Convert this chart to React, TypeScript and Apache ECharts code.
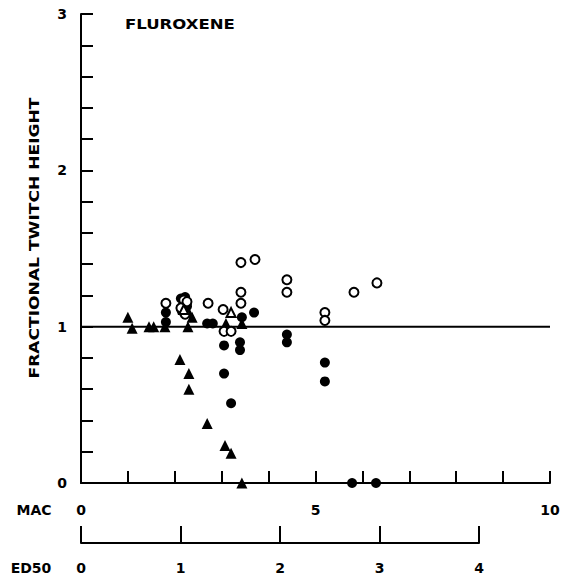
import React, { useEffect, useRef } from "react";
import * as echarts from "echarts";

// [MAC, fractional twitch height]
const filledCircles: [number, number][] = [
  [1.81, 1.09], [1.81, 1.03],
  [2.13, 1.18], [2.22, 1.19], [2.26, 1.13], [2.15, 1.10],
  [2.69, 1.02], [2.81, 1.02], [3.43, 1.06], [3.69, 1.09],
  [3.05, 0.88], [3.39, 0.90], [3.39, 0.85], [3.05, 0.70], [3.20, 0.51],
  [4.39, 0.95], [4.39, 0.90], [5.20, 0.77], [5.20, 0.65],
  [5.78, 0.0], [6.29, 0.0],
];
const openCircles: [number, number][] = [
  [1.81, 1.15],
  [2.19, 1.17], [2.26, 1.16], [2.13, 1.12], [2.22, 1.08],
  [2.71, 1.15], [3.03, 1.11], [3.41, 1.41], [3.71, 1.43],
  [3.41, 1.22], [3.41, 1.15], [3.05, 0.97], [3.20, 0.97],
  [4.39, 1.30], [4.39, 1.22], [5.20, 1.09], [5.20, 1.04],
  [5.82, 1.22], [6.31, 1.28],
];
const filledTriangles: [number, number][] = [
  [1.0, 1.06], [1.09, 0.99], [1.45, 1.0], [1.55, 1.0], [1.79, 1.0],
  [2.30, 1.09], [2.37, 1.06], [2.28, 1.0],
  [2.11, 0.79], [2.30, 0.70], [2.30, 0.60], [2.69, 0.38],
  [3.07, 0.24], [3.20, 0.19], [3.43, 0.0], [3.09, 1.02], [3.43, 1.02],
];
const openTriangles: [number, number][] = [
  [3.20, 1.09], [2.19, 1.11],
];
const referenceLine: [number, number][] = [[0, 1], [10, 1]];
const macLabels = [0, 5, 10];
const ed50Range = [0, 4];
const yRange = [0, 3];

const FONT = "DejaVu Sans";

export default function App() {
  const ref = useRef<HTMLDivElement>(null);
  useEffect(() => {
    if (!ref.current) return;
    const chart = echarts.init(ref.current, undefined, { renderer: "svg" });
    const axisLine = { show: true, lineStyle: { color: "#000", width: 2 } };
    const tickStyle = { color: "#000", width: 2 };
    const labelStyle = { color: "#000", fontFamily: FONT, fontWeight: "bold" as const, fontSize: 14 };
    chart.setOption({
      animation: false,
      backgroundColor: "#fff",
      grid: [
        { left: 81, right: 17, top: 14, bottom: 94 },
        { left: 81, width: 398, top: 533, height: 10 },
      ],
      xAxis: [
        {
          type: "value", gridIndex: 0, min: 0, max: 10, interval: 1,
          axisLine, splitLine: { show: false },
          axisTick: { show: true, inside: true, length: 12, lineStyle: tickStyle },
          axisLabel: {
            ...labelStyle, margin: 20,
            formatter: (v: number) => (macLabels.includes(Math.round(v)) && Math.abs(v - Math.round(v)) < 1e-6 ? String(Math.round(v)) : ""),
          },
        },
        {
          type: "value", gridIndex: 1, min: ed50Range[0], max: ed50Range[1], interval: 1,
          axisLine, splitLine: { show: false },
          axisTick: { show: true, inside: true, length: 17, lineStyle: tickStyle },
          axisLabel: { ...labelStyle, margin: 18 },
        },
      ],
      yAxis: [
        {
          type: "value", gridIndex: 0, min: yRange[0], max: yRange[1], interval: 0.2,
          axisLine, splitLine: { show: false },
          axisTick: { show: true, inside: true, length: 12, lineStyle: tickStyle },
          axisLabel: {
            ...labelStyle, margin: 14,
            formatter: (v: number) => (Math.abs(v - Math.round(v)) < 1e-6 ? String(Math.round(v)) : ""),
          },
        },
        { type: "value", gridIndex: 1, show: false, min: 0, max: 1 },
      ],
      series: [
        {
          type: "line", xAxisIndex: 0, yAxisIndex: 0, data: referenceLine,
          symbol: "none", lineStyle: { color: "#000", width: 2 }, z: 1,
        },
        {
          type: "scatter", data: filledTriangles, symbol: "triangle", symbolSize: 11,
          itemStyle: { color: "#000", opacity: 1 }, z: 3,
        },
        {
          type: "scatter", data: filledCircles, symbol: "circle", symbolSize: 10,
          itemStyle: { color: "#000", opacity: 1 }, z: 3,
        },
        {
          type: "scatter", data: openCircles, symbol: "circle", symbolSize: 9,
          itemStyle: { color: "#fff", borderColor: "#000", borderWidth: 2, opacity: 1 }, z: 4,
        },
        {
          type: "scatter", data: openTriangles, symbol: "triangle", symbolSize: 9,
          itemStyle: { color: "#fff", borderColor: "#000", borderWidth: 2, opacity: 1 }, z: 4,
        },
      ],
      graphic: [
        {
          type: "text", left: 125, top: 17, scaleX: 1.18,
          style: { text: "FLUROXENE", fill: "#000", font: `bold 14px "${FONT}"` },
        },
        {
          type: "text", x: 35, y: 238, rotation: Math.PI / 2, scaleX: 1.22,
          style: {
            text: "FRACTIONAL TWITCH HEIGHT", fill: "#000", font: `bold 14px "${FONT}"`,
            align: "center", verticalAlign: "middle",
          },
        },
        {
          type: "text", x: 34, y: 510,
          style: { text: "MAC", fill: "#000", font: `bold 14px "${FONT}"`, align: "center", verticalAlign: "middle" },
        },
        {
          type: "text", x: 31, y: 568,
          style: { text: "ED50", fill: "#000", font: `bold 14px "${FONT}"`, align: "center", verticalAlign: "middle" },
        },
      ],
    });
    return () => chart.dispose();
  }, []);
  return (
    <div
      ref={ref}
      style={{ position: "fixed", left: 0, top: 0, width: 567, height: 577, background: "#fff" }}
    />
  );
}
